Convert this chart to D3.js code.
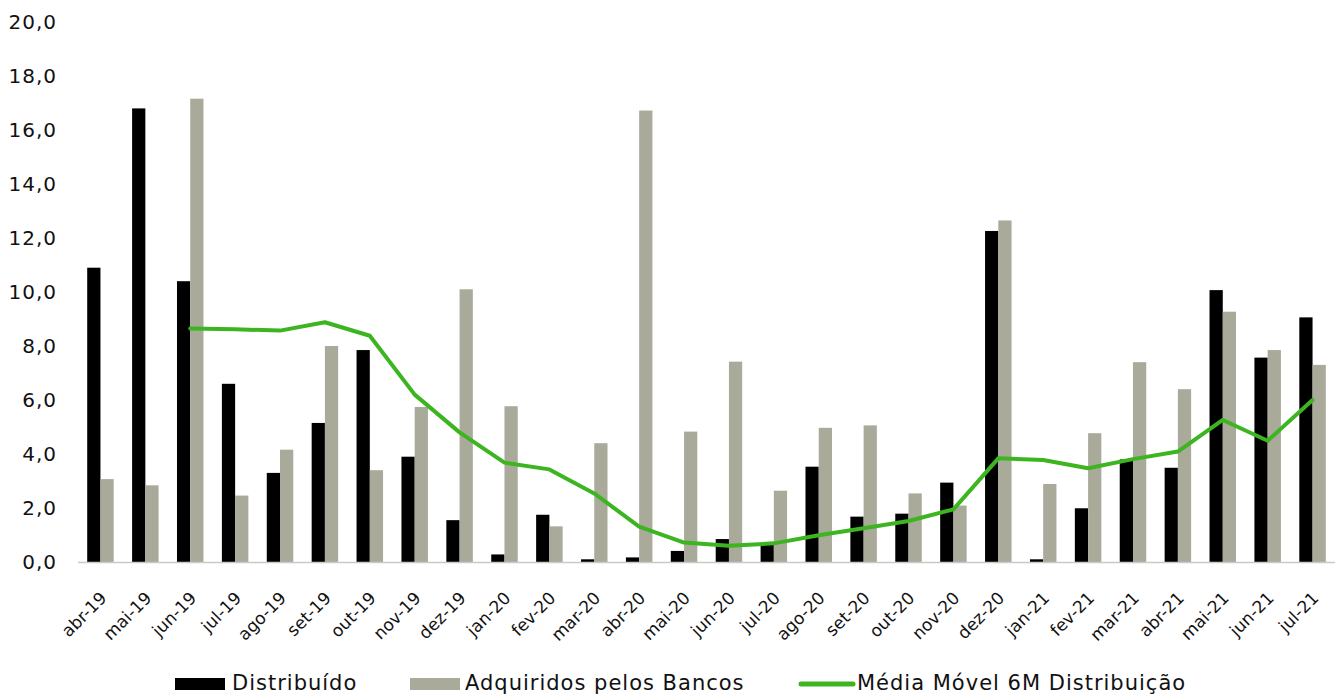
<!DOCTYPE html>
<html>
<head>
<meta charset="utf-8">
<script src="https://cdn.jsdelivr.net/npm/d3@7"></script>
<style>
  body { margin: 0; background: #fff; }
  svg { display: block; }
  text { font-family: "DejaVu Sans", "Noto Sans", sans-serif; fill: #111; }
</style>
</head>
<body>
<script>
// months (pt-BR), Apr 2019 .. Jul 2021
var months = ["abr-19","mai-19","jun-19","jul-19","ago-19","set-19","out-19","nov-19","dez-19",
  "jan-20","fev-20","mar-20","abr-20","mai-20","jun-20","jul-20","ago-20","set-20","out-20","nov-20","dez-20",
  "jan-21","fev-21","mar-21","abr-21","mai-21","jun-21","jul-21"];

var distribuido = [10.9, 16.8, 10.4, 6.6, 3.3, 5.15, 7.85, 3.9, 1.55,
  0.28, 1.75, 0.1, 0.17, 0.41, 0.85, 0.65, 3.53, 1.68, 1.79, 2.94, 12.26,
  0.1, 1.99, 3.8, 3.49, 10.07, 7.57, 9.06];

var adquiridos = [3.07, 2.84, 17.16, 2.46, 4.16, 8.0, 3.4, 5.74, 10.1,
  5.77, 1.32, 4.4, 16.72, 4.83, 7.42, 2.64, 4.97, 5.06, 2.54, 2.09, 12.65,
  2.89, 4.77, 7.4, 6.4, 9.27, 7.85, 7.3];

// 6M moving average, first value at jun-19
var mediaMovel = [null, null, 8.65, 8.62, 8.57, 8.88, 8.38, 6.2, 4.8,
  3.68, 3.43, 2.54, 1.31, 0.72, 0.6, 0.69, 0.99, 1.25, 1.52, 1.95, 3.84,
  3.78, 3.47, 3.81, 4.09, 5.26, 4.49, 6.0];

var yTicks = [0, 2, 4, 6, 8, 10, 12, 14, 16, 18, 20];

var seriesNames = ["Distribuído", "Adquiridos pelos Bancos", "Média Móvel 6M Distribuição"];

var W = 1339, H = 694;
var colBlack = "#000000", colGrey = "#a9aa9a", colGreen = "#3cb521";

var svg = d3.select("body").append("svg")
  .attr("width", W)
  .attr("height", H);

svg.append("rect").attr("width", W).attr("height", H).attr("fill", "#fff");

var x = d3.scaleBand()
  .domain(months)
  .range([78, 1335])
  .paddingInner(0.41)
  .paddingOuter(0.205);

var x1 = d3.scaleBand()
  .domain(["d", "a"])
  .range([0, x.bandwidth()]);

var y = d3.scaleLinear()
  .domain([0, 20])
  .range([562, 22]);

var fmt = function(v) { return d3.format(".1f")(v).replace(".", ","); };

// y tick labels (no axis line, no gridlines)
svg.append("g").selectAll("text")
  .data(yTicks)
  .join("text")
    .attr("x", 57)
    .attr("y", function(d) { return y(d); })
    .attr("dy", "0.36em")
    .attr("text-anchor", "end")
    .style("font-size", "20px")
    .style("letter-spacing", "1px")
    .text(fmt);

// bars
var rows = months.map(function(m, i) {
  return { m: m, d: distribuido[i], a: adquiridos[i] };
});

var groups = svg.append("g").selectAll("g")
  .data(rows)
  .join("g")
    .attr("transform", function(r) { return "translate(" + x(r.m) + ",0)"; });

groups.append("rect")
  .attr("x", x1("d"))
  .attr("width", x1.bandwidth())
  .attr("y", function(r) { return y(r.d); })
  .attr("height", function(r) { return y(0) - y(r.d); })
  .attr("fill", colBlack);

groups.append("rect")
  .attr("x", x1("a"))
  .attr("width", x1.bandwidth())
  .attr("y", function(r) { return y(r.a); })
  .attr("height", function(r) { return y(0) - y(r.a); })
  .attr("fill", colGrey);

// category axis line
svg.append("line")
  .attr("x1", 78).attr("x2", 1335)
  .attr("y1", y(0) + 0.5).attr("y2", y(0) + 0.5)
  .attr("stroke", "#c9c9c9")
  .attr("stroke-width", 1.5);

// rotated month labels
svg.append("g").selectAll("text")
  .data(months)
  .join("text")
    .attr("transform", function(m) {
      return "translate(" + (x(m) + x.bandwidth() / 2 + 3) + "," + 595 + ") rotate(-45)";
    })
    .attr("text-anchor", "end")
    .attr("dy", "0.35em")
    .style("font-size", "17px")
    .text(function(m) { return m; });

// moving average line
var line = d3.line()
  .defined(function(v) { return v != null; })
  .x(function(v, i) { return x(months[i]) + x.bandwidth() / 2; })
  .y(function(v) { return y(v); });

svg.append("path")
  .datum(mediaMovel)
  .attr("d", line)
  .attr("fill", "none")
  .attr("stroke", colGreen)
  .attr("stroke-width", 4)
  .attr("stroke-linejoin", "round")
  .attr("stroke-linecap", "round");

// legend
var lg = svg.append("g").style("font-size", "21px").style("letter-spacing", "1px");

lg.append("rect").attr("x", 175).attr("y", 678).attr("width", 50).attr("height", 12).attr("fill", colBlack);
lg.append("text").attr("x", 232).attr("y", 690).text(seriesNames[0]);

lg.append("rect").attr("x", 410).attr("y", 678).attr("width", 50).attr("height", 12).attr("fill", colGrey);
lg.append("text").attr("x", 465).attr("y", 690).text(seriesNames[1]);

lg.append("line").attr("x1", 801).attr("x2", 853).attr("y1", 684).attr("y2", 684)
  .attr("stroke", colGreen).attr("stroke-width", 5).attr("stroke-linecap", "round");
lg.append("text").attr("x", 857).attr("y", 690).text(seriesNames[2]);
</script>
</body>
</html>
